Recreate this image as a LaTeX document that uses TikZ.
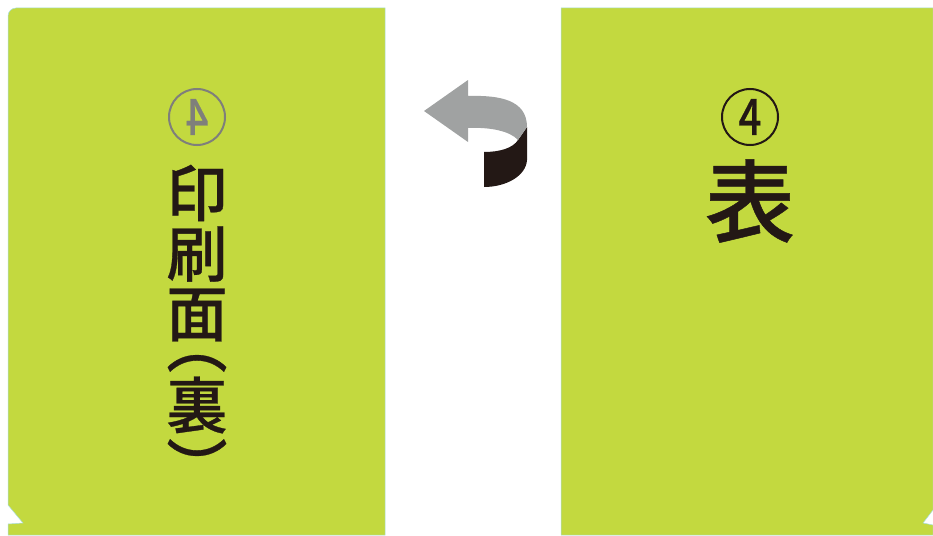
\documentclass[tikz,border=0pt]{standalone}
\usepackage{fontspec}
\newfontfamily\jpfont[FakeBold=0.5]{Noto Sans CJK JP Medium}
\usepackage{xcolor}
\usetikzlibrary{positioning}
\definecolor{panelgreen}{HTML}{C3D93F}
\definecolor{paneledge}{HTML}{A9DDE0}
\definecolor{inkblack}{HTML}{231815}
\definecolor{flipgrey}{HTML}{A0A2A2}
\definecolor{mirrorgrey}{HTML}{7F7F7B}
\tikzset{
    panel/.style={fill=panelgreen, draw=paneledge, line width=0.5pt}, % the two sheets
    sidechar/.style={inner sep=0pt, text=inkblack, font=\jpfont\fontsize{61}{61}\selectfont},
    sideparen/.style={sidechar, rotate=-90, font=\jpfont\fontsize{61}{61}\selectfont},
    numring/.style={circle, draw=#1, line width=2pt, minimum size=56pt, inner sep=0pt},
    numdigit/.style={inner sep=0pt, text=#1, font=\jpfont\fontsize{50}{50}\selectfont},
}
\begin{document}
\begin{tikzpicture}[x=1pt, y=-1pt]
    \useasboundingbox (0,0) rectangle (933,535);

    % sheets
    \draw[panel] (8,535) -- (8,524) -- (23,523) -- (8,505) -- (8,16)
        arc[start angle=180, end angle=90, radius=8pt] -- (385,8) -- (385,535) -- cycle;
    \draw[panel] (561,535) -- (561,8) -- (933,8) -- (933,510) -- (923,523) -- (933,525) -- (933,535) -- cycle;

    % back side
    \node[numring=mirrorgrey] at (197,117) (ringback) {};
    \node[numdigit=mirrorgrey, xscale=-0.8] at (ringback.center) (digitback) {4};
    \node[sidechar] at (197,193) (inchar) {印};
    \node[sidechar] at (197,254) (satsuchar) {刷};
    \node[sidechar] at (197,315) (menchar) {面};
    \node[sideparen] at (197,344) (lparen) {（};
    \node[sidechar] at (197,405) (urachar) {裏};
    \node[sideparen] at (197,467) (rparen) {）};

    % front side
    \node[numring=inkblack] at (750,117) (ringfront) {};
    \node[numdigit=inkblack, xscale=0.8] at (ringfront.center) (digitfront) {4};
    \node[sidechar, font=\jpfont\fontsize{90}{90}\selectfont] at (750,201) (omotechar) {表};

    % flip arrow
    \fill[inkblack] (484,152) .. controls (500,152) and (513,148) .. (518,140)
        -- (527,127) -- (527,160) .. controls (526,176) and (506,187) .. (484,187) -- cycle;
    \fill[flipgrey] (424,111) -- (468,80) -- (468,96)
        .. controls (500,95) and (527,100) .. (527,127)
        -- (518,140) .. controls (510,131) and (490,127) .. (468,128)
        -- (468,142) -- cycle;
\end{tikzpicture}
\end{document}
